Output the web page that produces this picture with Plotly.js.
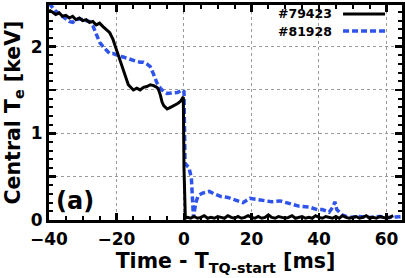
<!DOCTYPE html>
<html><head><meta charset="utf-8">
<script src="https://cdn.plot.ly/plotly-3.0.1.min.js"></script>
<style>html,body{margin:0;padding:0;background:#fff;}#chart{width:405px;height:278px;}</style>
</head><body><div id="chart"></div>
<script>
// #79423 (black, solid)
const tBlack = [-40,-39,-38,-37,-36,-35,-34,-33,-32,-31,-30,-29,-28,-27,-26,-25,-24,-23,-22,-21.5,-21,-20.5,-20,-19.5,-19,-18.5,-18,-17.5,-17,-16.5,-16,-15,-14,-13,-12,-11,-10,-9,-8,-7.5,-7,-6.5,-6,-5.5,-5,-4,-3,-2,-1,-0.5,-0.2,0,0.2,0.4,1,2,3,4,5,6,7,8,9,10,11,12,13,14,15,16,17,18,19,20,21,22,23,24,25,26,27,28,29,30,31,32,33,34,35,36,37,38,39,40,41,42,43,44,45,46,47,48,49,50,51,52,53,54,55,56,57,58,59,60,61,62,63,64,65];
const vBlack = [2.42,2.40,2.37,2.39,2.35,2.36,2.33,2.35,2.31,2.33,2.30,2.31,2.28,2.29,2.25,2.27,2.23,2.20,2.16,2.12,2.08,2.02,1.96,1.90,1.84,1.80,1.73,1.66,1.60,1.56,1.54,1.50,1.52,1.50,1.53,1.54,1.56,1.55,1.53,1.50,1.44,1.36,1.32,1.30,1.28,1.30,1.32,1.34,1.37,1.40,1.42,0.60,0.05,0.02,0.03,0.02,0.04,0.02,0.03,0.05,0.02,0.03,0.02,0.04,0.03,0.02,0.05,0.03,0.02,0.04,0.02,0.03,0.05,0.03,0.02,0.04,0.02,0.03,0.06,0.03,0.02,0.04,0.03,0.02,0.03,0.05,0.02,0.03,0.04,0.02,0.03,0.02,0.05,0.03,0.02,0.04,0.03,0.02,0.04,0.02,0.05,0.03,0.02,0.03,0.04,0.02,0.03,0.05,0.02,0.03,0.02,0.04,0.03,0.02,0.03,0.05];
// #81928 (blue, dashed)
const tBlue = [-40,-39,-38,-37,-36,-35,-34,-33,-32,-31,-30,-29,-28,-27,-26,-25,-24,-23,-22,-21,-20,-19,-18,-17,-16,-15,-14,-13,-12,-11,-10,-9,-8,-7,-6,-5,-4,-3,-2,-1,-0.5,0,0.3,0.6,1.5,2.2,2.8,3.5,4.2,5.5,7.5,9,11,13,15,17.5,19.5,21,23,26,28.5,31,34,37,39.5,41,43,44.3,44.7,45.3,46.8,49,52,55,58,61,65];
const vBlue = [2.50,2.45,2.41,2.38,2.35,2.33,2.29,2.28,2.31,2.32,2.31,2.30,2.29,2.24,2.14,2.05,2.00,1.96,1.92,1.92,1.90,1.89,1.88,1.87,1.85,1.84,1.83,1.82,1.82,1.80,1.77,1.68,1.58,1.52,1.48,1.46,1.46,1.47,1.47,1.49,1.50,1.48,0.66,0.64,0.60,0.48,0.03,0.20,0.28,0.31,0.33,0.30,0.27,0.26,0.23,0.20,0.25,0.24,0.22,0.21,0.22,0.19,0.16,0.15,0.12,0.12,0.09,0.16,0.21,0.12,0.06,0.03,0.04,0.03,0.04,0.03,0.04];
const seriesNames = ['#79423', '#81928'];
const xTickVals = [-40,-20,0,20,40,60];
const yTickVals = [0,1,2];

const FONT = 'DejaVu Sans, sans-serif';
const traces = [
  {x: tBlue, y: vBlue, type:'scatter', mode:'lines', name: seriesNames[1],
   line:{color:'#2f54ec', width:3.5, dash:'6px,3px'}},
  {x: tBlack, y: vBlack, type:'scatter', mode:'lines', name: seriesNames[0],
   line:{color:'#000000', width:3}},
  {x: [], y: [], type:'scatter', mode:'lines', yaxis:'y2', showlegend:false, hoverinfo:'skip'}
];
const tickFont = {family:FONT, size:17, color:'#000', weight:'bold'};
const layout = {
  width:405, height:278,
  margin:{l:49, r:3, t:5, b:58},
  paper_bgcolor:'#fff', plot_bgcolor:'#fff',
  showlegend:false,
  xaxis: {
    range:[-40, 64.6], tickmode:'array', tickvals:xTickVals,
    showline:true, linecolor:'#000', linewidth:3, mirror:'ticks',
    ticks:'inside', ticklen:7, tickwidth:2.5, tickcolor:'#000',
    showgrid:true, gridcolor:'#9a9a9a', gridwidth:1, griddash:'dot', zeroline:false,
    tickfont:tickFont, ticklabelstandoff:2,
    minor:{dtick:5, ticks:'inside', ticklen:4, tickwidth:2, tickcolor:'#000', showgrid:false},
    title:{text:'Time - T<sub>TQ-start</sub> [ms]', font:{family:FONT, size:20.5, color:'#000', weight:'bold'}, standoff:0}
  },
  yaxis: {
    range:[0, 2.48], tickmode:'array', tickvals:yTickVals,
    showline:true, linecolor:'#000', linewidth:3, mirror:'ticks',
    ticks:'inside', ticklen:7, tickwidth:2.5, tickcolor:'#000',
    showgrid:false, zeroline:false,
    tickfont:tickFont,
    minor:{dtick:0.1, ticks:'inside', ticklen:4, tickwidth:2, tickcolor:'#000', showgrid:false},
    title:{text:'Central T<sub>e</sub> [keV]', font:{family:FONT, size:20.5, color:'#000', weight:'bold'}, standoff:5}
  },
  yaxis2: {
    overlaying:'y', side:'left', range:[0, 2.48], dtick:0.5, tick0:0,
    showticklabels:false, ticks:'inside', ticklen:7, tickwidth:2.5, tickcolor:'#000', mirror:'ticks',
    showline:false, showgrid:true, gridcolor:'#9a9a9a', gridwidth:1, griddash:'dot', zeroline:false
  },
  annotations:[
    {text:'(a)', xref:'paper', yref:'paper', x:0.015, y:0.015, xanchor:'left', yanchor:'bottom', showarrow:false,
     font:{family:FONT, size:24, color:'#000', weight:'bold'}},
    {text:seriesNames[0], xref:'paper', yref:'paper', x:0.808, y:0.962, xanchor:'right', yanchor:'middle', showarrow:false,
     font:{family:FONT, size:12.5, color:'#000', weight:'bold'}},
    {text:seriesNames[1], xref:'paper', yref:'paper', x:0.808, y:0.878, xanchor:'right', yanchor:'middle', showarrow:false,
     font:{family:FONT, size:12.5, color:'#000', weight:'bold'}}
  ],
  shapes:[
    {type:'line', xref:'paper', yref:'paper', x0:0.833, x1:0.952, y0:0.958, y1:0.958, line:{color:'#000', width:3}},
    {type:'line', xref:'paper', yref:'paper', x0:0.833, x1:0.952, y0:0.879, y1:0.879, line:{color:'#2f54ec', width:3.5, dash:'6px,3px'}}
  ]
};
Plotly.newPlot('chart', traces, layout, {displayModeBar:false, staticPlot:true});
</script></body></html>
